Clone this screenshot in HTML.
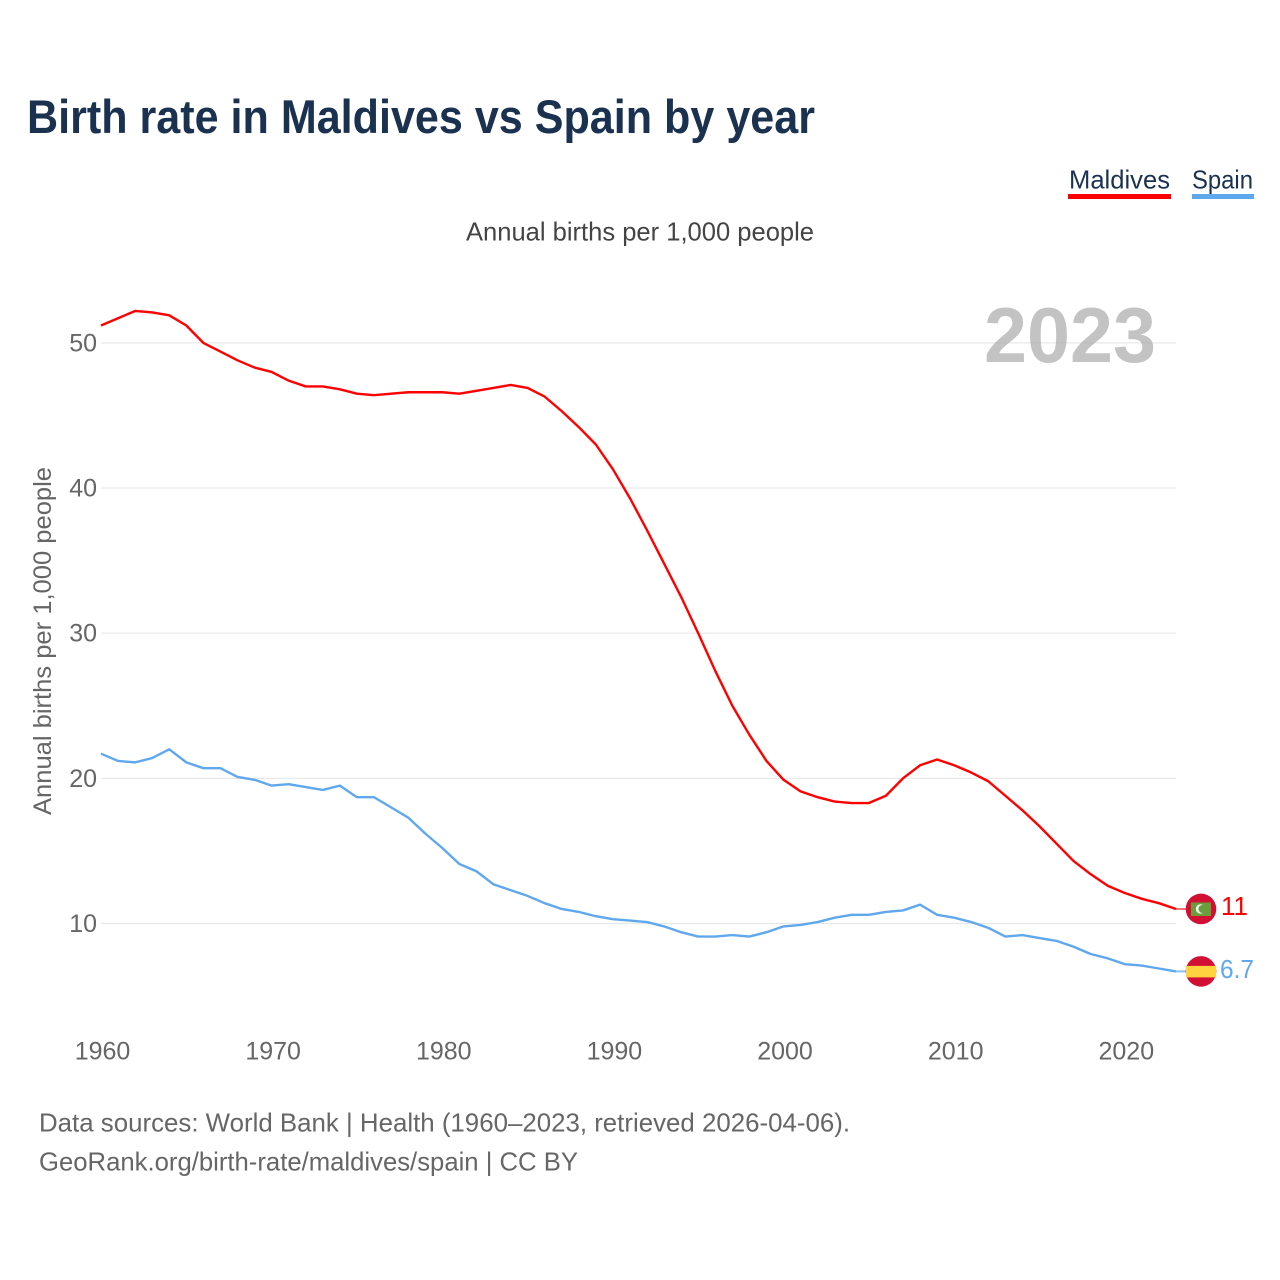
<!DOCTYPE html>
<html lang="en">
<head>
<meta charset="utf-8">
<title>Birth rate in Maldives vs Spain by year</title>
<style>
html,body{margin:0;padding:0;background:#fff;}
svg{display:block;font-family:"Liberation Sans",sans-serif;}
</style>
</head>
<body>
<svg id="chart" width="1280" height="1280" viewBox="0 0 1280 1280" xmlns="http://www.w3.org/2000/svg">
  <rect width="1280" height="1280" fill="#fff"/>
  <text x="27" y="133" font-size="47" font-weight="700" fill="#1a3150" textLength="788" lengthAdjust="spacingAndGlyphs">Birth rate in Maldives vs Spain by year</text>
  <g style="cursor:pointer">
    <text x="1069" y="188.5" font-size="26" fill="#1a3150" textLength="101" lengthAdjust="spacingAndGlyphs">Maldives</text>
    <rect x="1068" y="194" width="103" height="5" fill="#ff0000"/>
  </g>
  <g style="cursor:pointer">
    <text x="1192" y="188.5" font-size="26" fill="#1a3150" textLength="61" lengthAdjust="spacingAndGlyphs">Spain</text>
    <rect x="1192" y="194" width="62" height="5" fill="#5fa8ee"/>
  </g>
  <text x="466" y="240.5" font-size="26" fill="#444" textLength="348" lengthAdjust="spacingAndGlyphs">Annual births per 1,000 people</text>
  <g id="grid"></g>
  <g id="yticks"></g>
  <g id="xticks"></g>
  <text transform="translate(51,815) rotate(-90)" font-size="25" fill="#666" textLength="348" lengthAdjust="spacingAndGlyphs">Annual births per 1,000 people</text>
  <text id="year-label" x="984" y="362" font-size="78" font-weight="700" fill="#aaa" fill-opacity="0.7" textLength="172" lengthAdjust="spacingAndGlyphs">2023</text>
  <g id="series"></g>
  <g id="ends"></g>
  <text x="39" y="1131.5" font-size="26" fill="#666" textLength="811" lengthAdjust="spacingAndGlyphs">Data sources: World Bank | Health (1960–2023, retrieved 2026-04-06).</text>
  <text x="39" y="1170.5" font-size="26" fill="#666" textLength="539" lengthAdjust="spacingAndGlyphs">GeoRank.org/birth-rate/maldives/spain | CC BY</text>
</svg>
<script>
const startYear = 1960;
const maldivesValues = [51.2,51.7,52.2,52.1,51.9,51.2,50.0,49.4,48.8,48.3,48.0,47.4,47.0,47.0,46.8,46.5,46.4,46.5,46.6,46.6,46.6,46.5,46.7,46.9,47.1,46.9,46.3,45.3,44.2,43.0,41.3,39.3,37.1,34.8,32.5,30.0,27.4,25.0,23.0,21.2,19.9,19.1,18.7,18.4,18.3,18.3,18.8,20.0,20.9,21.3,20.9,20.4,19.8,18.8,17.8,16.7,15.5,14.3,13.4,12.6,12.1,11.7,11.4,11.0];
const spainValues = [21.7,21.2,21.1,21.4,22.0,21.1,20.7,20.7,20.1,19.9,19.5,19.6,19.4,19.2,19.5,18.7,18.7,18.0,17.3,16.2,15.2,14.1,13.6,12.7,12.3,11.9,11.4,11.0,10.8,10.5,10.3,10.2,10.1,9.8,9.4,9.1,9.1,9.2,9.1,9.4,9.8,9.9,10.1,10.4,10.6,10.6,10.8,10.9,11.3,10.6,10.4,10.1,9.7,9.1,9.2,9.0,8.8,8.4,7.9,7.6,7.2,7.1,6.9,6.7];
const yTickValues = [10,20,30,40,50];
const xTickValues = [1960,1970,1980,1990,2000,2010,2020];
const maldivesEndLabel = "11";
const spainEndLabel = "6.7";

const NS = "http://www.w3.org/2000/svg";
function xScale(year){ return 101 + (year - 1960) * (1176 - 101) / 63; }
function yScale(v){ return 923.5 - (v - 10) * 14.515; }
function make(tag, attrs, parent){
  const el = document.createElementNS(NS, tag);
  for (const k in attrs) el.setAttribute(k, attrs[k]);
  parent.appendChild(el);
  return el;
}

const grid = document.getElementById("grid");
const yticks = document.getElementById("yticks");
yTickValues.forEach(function(v){
  const line = make("line", {x1:101, x2:1176, y1:yScale(v), y2:yScale(v), stroke:"#e9e9e9", "stroke-width":1.2}, grid);
  
  
  const t = make("text", {x:97, y:yScale(v)+8.5, "font-size":25, fill:"#666", "text-anchor":"end"}, yticks);
  
  
  t.textContent = v;
});

const xticks = document.getElementById("xticks");
xTickValues.forEach(function(y){
  const t = make("text", {x:xScale(y)+1.5, y:1059.5, "font-size":25, fill:"#666", "text-anchor":"middle"}, xticks);
  
  
  t.textContent = y;
});

function pathFor(values){
  return values.map(function(v,i){
    return (i ? "L" : "M") + xScale(startYear + i).toFixed(2) + " " + yScale(v).toFixed(2);
  }).join(" ");
}

const seriesGroup = document.getElementById("series");
const spainLine = make("path", {d:pathFor(spainValues), fill:"none", stroke:"#5fa8ee", "stroke-width":2.4, "stroke-linejoin":"round"}, seriesGroup);


const maldivesLine = make("path", {d:pathFor(maldivesValues), fill:"none", stroke:"#ff0000", "stroke-width":2.4, "stroke-linejoin":"round"}, seriesGroup);



const ends = document.getElementById("ends");
const flagX = 1201;
const lastX = xScale(startYear + maldivesValues.length - 1);

// Maldives end marker
const my = yScale(maldivesValues[maldivesValues.length - 1]);
const mStub = make("line", {x1:lastX, x2:flagX, y1:my, y2:my, stroke:"#ff0000", "stroke-opacity":0.55, "stroke-width":2}, ends);


const mFlag = make("g", {transform:"translate(" + flagX + "," + my + ")"}, ends);


make("circle", {r:15.3, fill:"#d21034"}, mFlag);
make("rect", {x:-10, y:-6.5, width:20, height:13.5, fill:"#6a9e3c"}, mFlag);
make("circle", {cx:-0.5, cy:0, r:4.7, fill:"#f2f2f2"}, mFlag);
make("circle", {cx:1.5, cy:0, r:4, fill:"#6a9e3c"}, mFlag);
const mLabel = make("text", {x:1221, y:my+6, "font-size":26, fill:"#ff0000"}, ends);


mLabel.textContent = maldivesEndLabel;

// Spain end marker
const sy = yScale(spainValues[spainValues.length - 1]);
const sStub = make("line", {x1:lastX, x2:flagX, y1:sy, y2:sy, stroke:"#5fa8ee", "stroke-opacity":0.7, "stroke-width":2}, ends);


const sFlag = make("g", {transform:"translate(" + flagX + "," + sy + ")"}, ends);


make("circle", {r:15.3, fill:"#d21034"}, sFlag);
make("rect", {x:-15, y:-5.5, width:30, height:11.5, fill:"#ffd23f"}, sFlag);
const sLabel = make("text", {x:1220, y:sy+6.5, "font-size":26, fill:"#5fa8ee", textLength:34, lengthAdjust:"spacingAndGlyphs"}, ends);


sLabel.textContent = spainEndLabel;
</script>
</body>
</html>
